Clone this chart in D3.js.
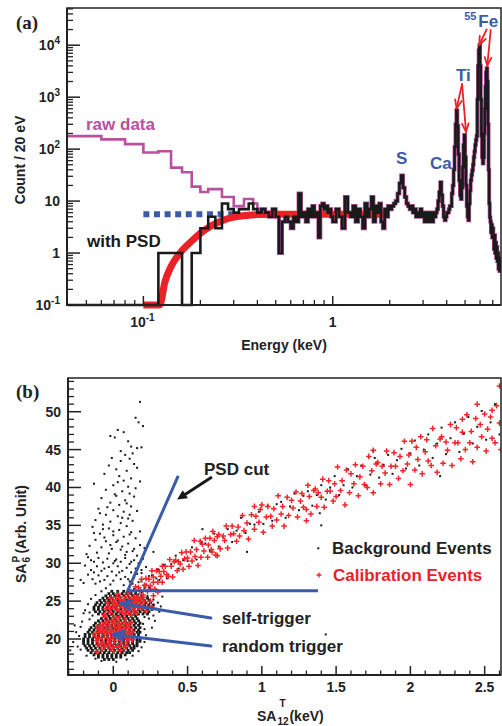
<!DOCTYPE html>
<html><head><meta charset="utf-8">
<script src="https://cdn.jsdelivr.net/npm/d3@7"></script>
<style>
body{margin:0;background:#fff}
text{font-family:"Liberation Sans",Arial,Helvetica,sans-serif;font-weight:bold}
</style>
</head><body>
<svg id="c" width="502" height="726"></svg>
<script>
// ================= DATA: panel (a) =================
// raw data histogram: [bin left edge (keV), counts / 20 eV]
const rawBins = [[0.04,178],[0.06,154],[0.08,125],[0.10,86],[0.12,91],[0.14,44],[0.16,36],[0.18,19],[0.20,15],[0.22,17],[0.24,17],[0.26,12],[0.28,12],[0.30,8],[0.32,8],[0.34,11],[0.36,11],[0.38,9],[0.40,7]];
const rawEnd = 0.42;
// with PSD histogram: [bin left edge (keV), counts]
const psdBins = [
[0.04,0],[0.06,0],[0.08,0],[0.10,0],[0.12,1],[0.14,1],[0.16,0],[0.18,1],[0.20,3],[0.22,5],[0.24,3],[0.26,9],[0.28,7],[0.30,6],[0.32,7],[0.34,7],[0.36,9],[0.38,7],[0.40,6],[0.42,7],[0.44,6],[0.46,5],[0.48,7],[0.50,5],[0.52,1],[0.54,4],[0.56,5],[0.58,4],[0.60,3],[0.62,5],[0.64,4],[0.66,14],[0.68,5],[0.70,6],[0.72,4],[0.74,7],[0.76,5],[0.78,8],[0.80,5],[0.82,6],[0.84,2],[0.86,8],[0.88,9],[0.90,7],[0.92,8],[0.94,6],[0.96,7],[0.98,5],
[1.00,4],[1.04,7],[1.08,5],[1.12,3],[1.16,12],[1.20,6],[1.24,5],[1.28,8],[1.32,4],[1.36,7],[1.40,5],[1.44,3],[1.48,9],[1.52,5],[1.56,7],[1.60,12],[1.64,4],[1.68,8],[1.72,6],[1.76,9],[1.80,4],[1.84,3],[1.88,7],[1.92,5],[1.96,8],
[2.00,7],[2.05,8],[2.10,9],[2.15,10],[2.20,14],[2.25,22],[2.30,31],[2.35,18],[2.40,12],[2.45,9],[2.50,8],[2.55,7],[2.60,8],[2.65,6],[2.70,7],[2.75,5],[2.80,6],[2.85,5],[2.90,7],[2.95,5],[3.00,6],[3.05,4],[3.10,6],[3.15,5],[3.20,4],[3.25,6],[3.30,5],[3.35,4],[3.40,6],[3.45,5],[3.50,6],[3.55,7],[3.60,10],[3.65,15],[3.70,23],[3.75,13],[3.80,8],[3.85,5],[3.90,4.3],[3.95,5],[4.00,6],[4.05,6],[4.10,7],[4.15,8],
[4.20,8],[4.25,14],[4.30,20],[4.35,40],[4.40,110],[4.45,300],[4.50,560],[4.55,280],[4.60,80],[4.65,25],[4.70,13],[4.75,11],[4.80,18],[4.85,45],[4.90,120],[4.95,186],[5.00,70],[5.05,20],[5.10,8],[5.15,5],[5.20,4.3],[5.25,9],[5.30,16],[5.35,25],[5.40,32],[5.45,39],[5.50,50],[5.55,70],[5.60,90],[5.65,120],[5.70,150],[5.75,180],[5.80,900],[5.85,4000],[5.90,8000],[5.95,10000],[6.00,4000],[6.05,900],[6.10,180],[6.15,70],[6.20,53],[6.25,70],[6.30,200],[6.35,600],[6.40,1600],[6.45,3000],[6.50,3600],[6.55,2000],[6.60,300],[6.65,40],[6.70,9],[6.75,4.9],[6.80,4],[6.85,2.5],[6.90,3.5],[6.95,2],[7.00,3],[7.05,2],[7.10,1.2],[7.15,2.2],[7.20,1],[7.25,1.6],[7.30,0.8],[7.35,1.3],[7.40,0.7],[7.45,1],[7.50,0.5],[7.55,0.8],[7.60,0.45],[7.65,0.6],[7.70,0.5]];
const psdEnd = 7.75;
// efficiency fit (red) and threshold level (blue dotted)
const fitE = [0.10,0.122,0.13,0.14,0.156,0.18,0.20,0.23,0.26,0.30,0.35,0.40,0.50,0.70,1.0,1.85];
const fitC = [0.1,0.1,0.28,0.55,1.0,1.7,2.4,3.4,4.2,4.9,5.3,5.5,5.6,5.6,5.6,5.6];
const levelE = [0.10,0.30];
const levelC = [5.6,5.6];
// peak labels [E, counts, text]
const peakLabels = [[2.31,51,"S"],[3.73,40.6,"Ca"],[4.9,2070,"Ti"]];
// red arrows [[E0,C0],[E1,C1]]
const peakArrows = [[[4.82,1786],[4.51,608]],[[4.82,1786],[5.06,215]],[[6.5,20200],[5.94,10090]],[[6.83,19600],[6.55,4030]]];
const yTicksA = [0.1,1,10,100,1000,10000];
const yTickLabA = ["-1","0","1","2","3","4"];
const xTicksA = [0.1,1];

// ================= DATA: panel (b) =================
const bgPlume = [[0.18,51.3],[0.15,49.2],[0.17,48.6],[0.2,48.1],[0.03,47.6],[0.07,47.3],[-0.02,46.8],[0.01,46.6],[0.12,45.4],[0.16,45.2],[0.19,45.3],[0.1,46.1],
[0.08,44.3],[0.11,43.8],[0.05,43.5],[0.14,43.1],[-0.03,42.9],[0.02,42.4],[0.09,42.2],[0.16,42.6],[-0.06,41.8],[0.04,41.5],[0.12,41.2],[0.07,40.9],[0.18,40.8],[-0.13,40.5],[0.0,40.3],[0.1,40.1],[0.05,44.8],[-0.01,43.9],[0.13,44.5],[0.03,40.7],
[-0.05,39.7],[0.06,39.5],[0.11,39.2],[0.02,38.9],[-0.08,38.6],[0.14,38.8],[0.08,38.3],[-0.02,38.0],[0.04,37.7],[0.12,37.5],[-0.1,37.2],[0.0,37.0],[0.07,36.8],[0.16,36.9],[-0.05,36.4],[0.03,36.2],[0.1,35.9],[-0.12,35.7],[-0.02,35.5],[0.05,35.3],[0.13,35.6],[0.18,34.2],[-0.07,35.1],[0.01,39.1],[0.09,37.9],[-0.04,37.4],[0.06,36.0],[0.15,39.9],[-0.09,36.6],[0.11,36.4],
[-0.14,34.8],[-0.03,34.6],[0.04,34.4],[0.09,34.9],[0.12,34.1],[-0.09,33.9],[0.0,33.7],[0.07,33.5],[0.15,33.3],[-0.12,33.1],[-0.05,32.9],[0.02,32.8],[0.1,32.6],[0.18,32.4],[-0.16,32.3],[-0.08,32.1],[-0.01,31.9],[0.05,31.8],[0.13,31.6],[-0.11,31.4],[-0.03,31.3],[0.08,31.1],[0.16,31.0],[-0.06,33.4],[0.03,33.0],[0.11,33.8],[-0.13,34.0],[-0.02,32.4],[0.06,32.2],[0.14,31.9],[-0.18,31.2],[0.21,32.0],[0.0,34.2],[-0.07,34.5],[0.09,31.5],
[-0.17,30.8],[-0.1,30.7],[-0.04,30.6],[0.02,30.5],[0.08,30.7],[0.14,30.4],[0.2,30.6],[-0.13,30.2],[-0.07,30.1],[0.0,30.0],[0.05,30.2],[0.11,29.9],[0.17,30.0],[-0.19,29.7],[-0.11,29.6],[-0.03,29.5],[0.03,29.6],[0.09,29.4],[0.15,29.3],[0.22,29.5],[-0.15,29.1],[-0.08,29.0],[-0.01,28.9],[0.06,29.0],[0.12,28.8],[0.19,28.7],[-0.17,28.5],[-0.1,28.4],[-0.04,28.3],[0.02,28.4],[0.08,28.2],[0.14,28.1],[0.24,28.3],[-0.14,27.9],[-0.06,27.8],[0.0,27.7],[0.05,27.9],[0.11,27.6],[0.17,27.5],[-0.2,27.4],[-0.12,27.3],[-0.02,27.2],[0.07,27.1],[0.13,27.3],[0.21,27.0],[0.3,29.2],[-0.22,27.8],[0.27,31.5],
[-0.15,30.4],[-0.06,29.3],[0.04,28.8],[0.16,28.6],[-0.09,27.6],[0.1,27.9],[0.19,29.1],[-0.13,28.8],[0.01,30.3],[0.12,30.2]];
// dense clusters as rows: [y, [x...]]
const bgRandomRows = [
[17.3,[-0.06,-0.03,0.0]],
[17.6,[-0.1,-0.07,-0.04,-0.01,0.02,0.05]],
[17.9,[-0.13,-0.1,-0.07,-0.04,-0.01,0.02,0.05,0.08]],
[18.2,[-0.15,-0.12,-0.09,-0.06,-0.03,0.0,0.03,0.06,0.09,0.11]],
[18.5,[-0.17,-0.14,-0.11,-0.08,-0.05,-0.02,0.01,0.04,0.07,0.1,0.13]],
[18.8,[-0.18,-0.15,-0.12,-0.09,-0.06,-0.03,0.0,0.03,0.06,0.09,0.12,0.14]],
[19.1,[-0.19,-0.16,-0.13,-0.1,-0.07,-0.04,-0.01,0.02,0.05,0.08,0.11,0.14,0.16]],
[19.4,[-0.2,-0.17,-0.14,-0.11,-0.08,-0.05,-0.02,0.01,0.04,0.07,0.1,0.13,0.16]],
[19.7,[-0.2,-0.17,-0.14,-0.11,-0.08,-0.05,-0.02,0.01,0.04,0.07,0.1,0.13,0.16,0.18]],
[20.0,[-0.2,-0.17,-0.14,-0.11,-0.08,-0.05,-0.02,0.01,0.04,0.07,0.1,0.13,0.16,0.18]],
[20.3,[-0.19,-0.16,-0.13,-0.1,-0.07,-0.04,-0.01,0.02,0.05,0.08,0.11,0.14,0.17]],
[20.6,[-0.19,-0.16,-0.13,-0.1,-0.07,-0.04,-0.01,0.02,0.05,0.08,0.11,0.14,0.17]],
[20.9,[-0.17,-0.14,-0.11,-0.08,-0.05,-0.02,0.01,0.04,0.07,0.1,0.13,0.16,0.18]],
[21.2,[-0.16,-0.13,-0.1,-0.07,-0.04,-0.01,0.02,0.05,0.08,0.11,0.14,0.17]],
[21.5,[-0.15,-0.12,-0.09,-0.06,-0.03,0.0,0.03,0.06,0.09,0.12,0.15,0.18]],
[21.8,[-0.13,-0.1,-0.07,-0.04,-0.01,0.02,0.05,0.08,0.11,0.14,0.17]],
[22.1,[-0.12,-0.09,-0.06,-0.03,0.0,0.03,0.06,0.09,0.12,0.15,0.18]],
[22.4,[-0.1,-0.07,-0.04,-0.01,0.02,0.05,0.08,0.11,0.14,0.17]],
[22.7,[-0.08,-0.05,-0.02,0.01,0.04,0.07,0.1,0.13,0.16]],
[23.0,[-0.06,-0.03,0.0,0.03,0.06,0.09,0.12,0.15]]];
const bgSelfRows = [
[23.3,[-0.1,-0.07,-0.04,-0.01,0.02,0.05,0.08,0.11,0.14,0.17,0.2,0.23]],
[23.6,[-0.12,-0.09,-0.06,-0.03,0.0,0.03,0.06,0.09,0.12,0.15,0.18,0.21,0.24]],
[23.9,[-0.13,-0.1,-0.07,-0.04,-0.01,0.02,0.05,0.08,0.11,0.14,0.17,0.2,0.23,0.26]],
[24.2,[-0.13,-0.1,-0.07,-0.04,-0.01,0.02,0.05,0.08,0.11,0.14,0.17,0.2,0.23,0.26]],
[24.5,[-0.12,-0.09,-0.06,-0.03,0.0,0.03,0.06,0.09,0.12,0.15,0.18,0.21,0.24,0.27]],
[24.8,[-0.11,-0.08,-0.05,-0.02,0.01,0.04,0.07,0.1,0.13,0.16,0.19,0.22,0.25]],
[25.1,[-0.09,-0.06,-0.03,0.0,0.03,0.06,0.09,0.12,0.15,0.18,0.21,0.24]],
[25.4,[-0.07,-0.04,-0.01,0.02,0.05,0.08,0.11,0.14,0.17,0.2,0.23]],
[25.7,[-0.05,-0.02,0.01,0.04,0.07,0.1,0.13,0.16,0.19]],
[26.0,[-0.03,0.0,0.03,0.06,0.09,0.12,0.15]],
[26.3,[-0.01,0.03,0.07,0.11]]];
const bgHalo = [[-0.24,19.0],[-0.23,20.4],[-0.22,21.6],[-0.25,20.9],[-0.22,18.6],[-0.18,17.8],[-0.12,17.4],[0.09,17.3],[0.13,17.8],[0.17,18.4],[0.19,18.9],[0.21,19.6],[0.22,20.5],[0.21,21.3],[0.2,22.0],[-0.21,22.3],[-0.16,22.6],[-0.27,19.6],[0.02,17.0],[-0.08,17.1],[-0.26,21.8],[0.24,20.0],[-0.14,23.1],[-0.2,23.4],[-0.19,23.8],
[-0.16,23.5],[-0.17,24.6],[-0.15,25.3],[-0.12,25.8],[-0.08,26.3],[-0.05,26.7],[0.15,26.4],[0.19,26.1],[0.23,25.7],[0.27,25.2],[0.3,24.8],[0.29,24.0],[0.31,23.6],[0.27,23.1],[0.24,22.7],[0.28,22.4],[0.33,25.6],[0.25,26.6],[0.21,22.9],[0.32,24.3],[0.26,21.5],[-0.29,18.5],[1.43,20.6]];
const bgBand = [[0.14,26.6],[0.17,25.9],[0.19,27.6],[0.21,26.7],[0.24,26.8],[0.26,28.4],[0.29,28.0],[0.31,27.8],[0.34,29.8],[0.36,28.0],[0.39,29.9],[0.42,31.0],[0.44,29.3],[0.47,30.4],[0.5,30.3],[0.53,32.1],[0.56,30.5],[0.59,32.7],[0.62,32.6],[0.65,31.6],[0.68,33.9],[0.71,32.2],[0.74,33.4],[0.77,34.5],[0.8,32.8],[0.83,34.3],[0.86,36.0],[0.89,34.0],[0.92,35.2],[0.95,35.1],[0.98,36.8],[1.01,35.2],[1.04,37.6],[1.07,35.6],[1.1,37.8],[1.13,38.1],[1.16,36.0],[1.19,37.5],[1.22,39.2],[1.25,37.0],[1.28,38.9],[1.31,39.5],[1.34,37.6],[1.37,39.0],[1.4,40.3],[1.43,38.4],[1.46,40.0],[1.49,41.5],[1.52,39.0],[1.55,40.3],[1.58,42.4],[1.61,40.0],[1.64,41.5],[1.67,42.9],[1.7,40.3],[1.73,41.7],[1.76,43.9],[1.79,41.3],[1.82,43.0],[1.85,44.3],[1.88,41.8],[1.91,43.6],[1.94,45.1],[1.97,42.5],[2.0,44.5],[2.03,46.2],[2.06,42.9],[2.09,45.0],[2.12,47.0],[2.15,43.9],[2.18,45.8],[2.21,47.9],[2.24,44.4],[2.27,46.5],[2.3,48.6],[2.33,44.7],[2.36,47.1],[2.39,49.3],[2.42,45.8],[2.45,48.0],[2.48,50.1],[2.51,46.3],[2.54,48.6],[2.57,51.0],[2.6,47.0],[0.9,31.5],[1.4,35.0],[0.6,34.5],[1.75,44.8],[2.2,41.5],[0.3,26.3],[1.39,36.6]];
const calRandom = [[-0.1,19.2],[-0.06,19.0],[-0.02,18.8],[0.03,19.1],[0.07,18.9],[-0.11,19.8],[-0.07,19.6],[-0.03,19.5],[0.01,19.7],[0.05,19.4],[0.09,19.6],[-0.12,20.4],[-0.08,20.2],[-0.04,20.1],[0.0,20.3],[0.04,20.0],[0.08,20.2],[0.11,20.5],[-0.1,20.9],[-0.06,20.8],[-0.02,20.7],[0.02,20.9],[0.06,20.6],[0.1,20.8],[-0.09,21.4],[-0.05,21.3],[-0.01,21.2],[0.03,21.5],[0.07,21.2],[0.11,21.4],[-0.07,21.9],[-0.03,21.8],[0.01,22.0],[0.05,21.7],[0.09,21.9],[-0.04,22.4],[0.0,22.5],[0.04,22.3],[0.08,22.6],[0.12,22.2],[-0.11,18.3],[-0.08,18.6],[0.0,18.4],[0.05,18.5],[-0.13,20.7],[0.13,21.0],[0.13,19.9],[-0.11,21.5],[0.02,22.8],[-0.06,22.9],
[-0.08,19.4],[-0.04,19.2],[0.0,19.0],[0.05,19.8],[0.09,19.1],[-0.1,20.0],[-0.06,20.5],[-0.02,20.0],[0.02,20.5],[0.06,20.3],[0.1,20.1],[-0.08,21.1],[-0.04,20.9],[0.0,21.0],[0.04,21.1],[0.08,21.0],[0.12,20.7],[-0.07,21.6],[-0.03,21.5],[0.01,21.6],[0.05,21.4],[0.09,21.6],[-0.05,22.1],[-0.01,22.2],[0.03,22.0],[0.07,22.1],[0.11,22.0],[-0.09,21.8],[-0.02,19.3],[0.03,18.9]];
const calSelf = [[-0.05,24.0],[-0.02,23.5],[0.01,24.2],[0.04,23.7],[0.07,24.3],[0.1,23.8],[0.13,24.1],[0.16,24.4],[0.19,24.0],[-0.04,24.8],[0.0,25.0],[0.03,24.6],[0.06,24.9],[0.09,24.5],[0.12,24.8],[0.15,25.1],[0.18,24.7],[0.21,24.9],[-0.02,25.4],[0.02,25.5],[0.05,25.2],[0.08,25.6],[0.11,25.3],[0.14,25.6],[0.17,25.3],[0.2,25.5],[0.0,23.1],[0.04,22.9],[0.08,23.3],[0.12,23.2],[0.16,23.4],[-0.06,23.2],[0.23,24.3],[0.25,25.0],[0.22,23.7],[0.03,25.9],[0.1,26.0],[0.27,25.7],[0.3,26.2],[0.26,24.2],
[-0.03,24.3],[0.0,24.5],[0.02,23.9],[0.05,24.4],[0.08,24.0],[0.11,24.2],[0.14,24.6],[0.17,24.2],[0.2,24.3],[0.01,24.8],[0.04,25.3],[0.07,25.0],[0.1,24.9],[0.13,25.3],[0.16,25.0],[0.19,25.2],[0.06,23.5],[0.1,23.5],[0.14,23.7],[-0.02,24.0]];
const calBand = [[0.15,26.9],[0.16,25.5],[0.17,26.8],[0.18,26.4],[0.19,27.9],[0.2,25.8],[0.21,27.1],[0.22,28.0],[0.22,27.1],[0.23,26.3],[0.24,27.9],[0.25,27.0],[0.26,29.0],[0.27,27.5],[0.27,28.2],[0.28,26.6],[0.29,29.0],[0.3,27.5],[0.31,28.9],[0.32,28.3],[0.33,29.6],[0.33,27.5],[0.34,28.9],[0.35,29.6],[0.36,28.5],[0.37,28.3],[0.38,30.5],[0.39,29.6],[0.4,28.2],[0.41,30.2],[0.42,30.4],[0.43,29.0],[0.44,30.2],[0.45,29.9],[0.46,31.4],[0.47,29.2],[0.48,30.6],[0.49,31.5],[0.5,30.7],
[0.51,29.6],[0.52,31.5],[0.53,30.3],[0.545,33.0],[0.55,30.9],[0.56,31.8],[0.57,29.7],[0.585,32.9],[0.59,30.8],[0.6,32.5],[0.61,31.6],[0.62,33.3],[0.635,30.8],[0.64,32.4],[0.65,33.3],[0.66,31.8],[0.665,31.5],[0.67,34.2],[0.68,33.0],[0.69,31.1],[0.7,33.5],[0.71,33.8],[0.72,31.9],[0.74,33.6],[0.75,33.0],[0.76,34.9],[0.77,32.0],[0.79,33.8],[0.8,34.9],[0.81,33.9],[0.83,32.9],[0.84,34.8],[0.85,33.6],[0.87,36.3],[0.88,34.3],[0.9,35.3],[0.91,33.2],[0.93,36.4],[0.95,34.5],[0.96,36.2],[0.98,35.4],[0.99,37.1],
[1.0,37.7],[1.01,34.1],[1.03,36.1],[1.04,37.5],[1.06,36.2],[1.07,34.9],[1.08,37.2],[1.1,35.7],[1.11,38.9],[1.13,36.5],[1.14,37.5],[1.15,34.9],[1.17,38.7],[1.18,36.3],[1.2,38.3],[1.21,37.3],[1.23,39.4],[1.24,36.1],[1.26,38.2],[1.27,39.2],[1.28,37.4],[1.3,37.1],[1.31,40.3],[1.32,38.8],[1.33,36.5],[1.35,39.6],[1.36,39.8],[1.37,37.5],[1.38,39.3],[1.4,38.7],[1.41,41.1],[1.42,37.4],[1.44,39.5],[1.45,40.9],[1.46,39.5],[1.48,38.2],[1.49,40.5],
[1.5,38.8],[1.51,42.7],[1.53,39.6],[1.54,40.9],[1.56,37.7],[1.57,42.3],[1.59,39.3],[1.6,41.8],[1.62,40.5],[1.63,43.0],[1.65,38.9],[1.66,41.4],[1.68,42.8],[1.69,40.4],[1.71,40.0],[1.72,44.1],[1.74,42.2],[1.75,39.3],[1.77,43.1],[1.78,43.3],[1.8,40.5],[1.81,42.8],[1.83,41.9],[1.84,44.8],[1.86,40.4],[1.87,42.8],[1.89,44.6],[1.9,42.8],[1.92,41.2],[1.93,44.1],[1.95,42.2],[1.96,46.1],[1.98,43.1],[1.99,44.3],
[2.0,40.4],[2.01,46.1],[2.03,42.3],[2.04,45.3],[2.05,43.7],[2.07,46.7],[2.08,41.8],[2.1,44.7],[2.11,46.3],[2.12,43.5],[2.14,42.9],[2.15,47.8],[2.17,45.5],[2.18,42.0],[2.2,46.4],[2.21,46.7],[2.22,43.2],[2.24,46.0],[2.25,44.9],[2.27,48.3],[2.28,42.9],[2.3,45.9],[2.31,47.9],[2.32,45.9],[2.34,43.8],[2.35,47.3],[2.37,45.0],[2.38,49.6],[2.4,45.9],[2.41,47.4],[2.42,43.4],[2.44,49.1],[2.45,45.3],[2.47,48.3],[2.48,46.7],[2.5,49.7],[2.51,44.8],[2.52,47.7],[2.54,49.3],[2.55,46.5],[2.57,45.9],[2.58,50.8],[2.6,48.5],[2.61,45.0],
[2.6,53.4],[2.45,51.0],[1.75,44.9],[0.95,37.5],[2.55,50.2],[2.35,49.0],[1.3,35.6],[0.7,31.0]];
// annotations (data coords)
const cutVertex = [0.097,26.37], cutTop = [0.437,41.54], cutRight = [1.378,26.37];
const psdArrow = [[0.664,41.37],[0.429,38.4]];
const trigArrows = [[[0.657,22.77],[0.052,24.68]],[[0.657,19.08],[0.0,20.6]]];
const yMajorB = [20,25,30,35,40,45,50];
const xMajorB = [0,0.5,1,1.5,2,2.5];
const xLabB = ["0","0.5","1","1.5","2","2.5"];

// ================= DRAW =================
const svg = d3.select("#c");
const BLUE = "#3b5ba9", RED = "#ea2127", MAG = "#b8519f";

function arrowOpen(g, p0, p1, color, w, len, ang){
  g.append("line").attr("x1",p0[0]).attr("y1",p0[1]).attr("x2",p1[0]).attr("y2",p1[1])
   .attr("stroke",color).attr("stroke-width",w).attr("stroke-linecap","round");
  const a = Math.atan2(p0[1]-p1[1], p0[0]-p1[0]);
  [ang,-ang].forEach(s=>{
    g.append("line").attr("x1",p1[0]).attr("y1",p1[1])
     .attr("x2",p1[0]+len*Math.cos(a+s)).attr("y2",p1[1]+len*Math.sin(a+s))
     .attr("stroke",color).attr("stroke-width",w).attr("stroke-linecap","round");
  });
}

// ---------- Panel (a)
const xA = d3.scaleLog().domain([0.0395,7.74]).range([67,501]);
const yA = d3.scaleLog().domain([0.1,52000]).range([305,8]);
const gA = svg.append("g");
svg.append("clipPath").attr("id","clipA").append("rect").attr("x",67).attr("y",8).attr("width",434).attr("height",302);
const pA = gA.append("g").attr("clip-path","url(#clipA)");
const step = d3.line().x(d=>xA(d[0])).y(d=>yA(Math.max(d[1],0.1))).curve(d3.curveStepAfter);
const withEnd = (bins,end)=>bins.concat([[end,bins[bins.length-1][1]]]);

pA.append("path").attr("d",step(withEnd(rawBins,rawEnd))).attr("fill","none").attr("stroke",MAG).attr("stroke-width",2.6);
const hiBins = psdBins.filter(d=>d[0]>=0.4);
pA.append("path").attr("d",step(withEnd(hiBins,psdEnd))).attr("fill","none").attr("stroke",MAG).attr("stroke-width",4);
pA.append("path").attr("d",d3.line().x(d=>xA(d[0])).y(d=>yA(d[1]))(levelE.map((e,i)=>[e,levelC[i]])))
  .attr("stroke",BLUE).attr("stroke-width",6).attr("stroke-dasharray","6,4.6").attr("fill","none");
pA.append("path").attr("d",d3.line().x(d=>xA(d[0])).y(d=>yA(d[1])).curve(d3.curveMonotoneX)(fitE.map((e,i)=>[e,fitC[i]])))
  .attr("stroke",RED).attr("stroke-width",7).attr("fill","none");
pA.append("path").attr("d",step(withEnd(psdBins,psdEnd))).attr("fill","none").attr("stroke","#1a1a1a").attr("stroke-width",2.6).attr("stroke-linejoin","miter");

// frame A
gA.append("rect").attr("x",67).attr("y",8).attr("width",434).attr("height",297).attr("fill","none").attr("stroke","#222").attr("stroke-width",1.5);
gA.append("line").attr("x1",67).attr("x2",67).attr("y1",8).attr("y2",306).attr("stroke","#222").attr("stroke-width",2);
gA.append("line").attr("x1",66).attr("x2",501).attr("y1",305).attr("y2",305).attr("stroke","#222").attr("stroke-width",2);
// y ticks A
const yMinorA=[]; [0.1,1,10,100,1000,10000].forEach(b=>{for(let k=2;k<=9;k++){const v=b*k; if(v<52000) yMinorA.push(v);}});
yMinorA.forEach(v=>gA.append("line").attr("x1",67).attr("x2",73).attr("y1",yA(v)).attr("y2",yA(v)).attr("stroke","#222").attr("stroke-width",1.3));
yTicksA.forEach(v=>gA.append("line").attr("x1",67).attr("x2",80).attr("y1",yA(v)).attr("y2",yA(v)).attr("stroke","#222").attr("stroke-width",1.5));
yTicksA.forEach((v,i)=>{
  const t = gA.append("text").attr("x",60).attr("y",yA(v)+5).attr("text-anchor","end").attr("font-size",14).attr("fill","#222");
  const e = yTickLabA[i];
  if(e==="0") t.text("1");
  else if(e==="1") t.text("10");
  else { t.text("10"); t.append("tspan").attr("dy",-6).attr("font-size",10).text(e); }
});
// x ticks A
const xMinorA=[0.05,0.06,0.07,0.08,0.09,0.2,0.3,0.4,0.5,0.6,0.7,0.8,0.9,2,3,4,5,6,7];
xMinorA.forEach(v=>gA.append("line").attr("x1",xA(v)).attr("x2",xA(v)).attr("y1",305).attr("y2",300).attr("stroke","#222").attr("stroke-width",1.3));
xTicksA.forEach(v=>gA.append("line").attr("x1",xA(v)).attr("x2",xA(v)).attr("y1",305).attr("y2",296).attr("stroke","#222").attr("stroke-width",1.5));
{ const t=gA.append("text").attr("x",xA(0.1)-1).attr("y",327).attr("text-anchor","middle").attr("font-size",14).attr("fill","#222");
  t.text("10"); t.append("tspan").attr("dy",-6).attr("font-size",10).text("-1");
  gA.append("text").attr("x",xA(1)).attr("y",327).attr("text-anchor","middle").attr("font-size",14).attr("fill","#222").text("1"); }
gA.append("text").attr("x",284).attr("y",350).attr("text-anchor","middle").attr("font-size",14).attr("fill","#222").text("Energy (keV)");
gA.append("text").attr("transform","translate(25,160) rotate(-90)").attr("text-anchor","middle").attr("font-size",14).attr("fill","#222").text("Count / 20 eV");
gA.append("text").attr("x",16).attr("y",29).attr("font-size",19).attr("fill","#222").style("font-family","'Liberation Serif','Times New Roman',serif").text("(a)");
gA.append("text").attr("x",86).attr("y",130).attr("font-size",17).attr("fill",MAG).text("raw data");
gA.append("text").attr("x",87).attr("y",247).attr("font-size",17).attr("fill","#1a1a1a").text("with PSD");
peakLabels.forEach(d=>gA.append("text").attr("x",xA(d[0])).attr("y",yA(d[1])).attr("text-anchor","middle").attr("font-size",17).attr("fill",BLUE).text(d[2]));
gA.append("text").attr("x",xA(4.95)).attr("y",yA(30600)).attr("font-size",11).attr("fill",BLUE).text("55");
gA.append("text").attr("x",xA(5.87)).attr("y",yA(22700)).attr("font-size",17).attr("fill",BLUE).text("Fe");
peakArrows.forEach(a=>arrowOpen(gA,[xA(a[0][0]),yA(a[0][1])],[xA(a[1][0]),yA(a[1][1])],RED,1.8,9,0.38));

// ---------- Panel (b)
const xB = d3.scaleLinear().domain([-0.305,2.61]).range([68,501]);
const yB = d3.scaleLinear().domain([15.25,54.45]).range([675,378]);
const gB = svg.append("g");
svg.append("clipPath").attr("id","clipB").append("rect").attr("x",68).attr("y",378).attr("width",433).attr("height",297);
const pB = gB.append("g").attr("clip-path","url(#clipB)");
const rowsToPts = rows => rows.flatMap(r=>r[1].map(x=>[x,r[0]]));
const bgSparse = bgPlume.concat(bgHalo, bgBand);
const bgDense = rowsToPts(bgRandomRows).concat(rowsToPts(bgSelfRows));
pB.selectAll("rect.bgd").data(bgDense).join("rect").attr("class","bgd")
  .attr("x",d=>xB(d[0])-1.4).attr("y",d=>yB(d[1])-1.4).attr("width",2.8).attr("height",2.8).attr("fill","#1a1a1a");
pB.selectAll("rect.bg").data(bgSparse).join("rect").attr("class","bg")
  .attr("x",d=>xB(d[0])-1).attr("y",d=>yB(d[1])-1).attr("width",2).attr("height",2).attr("fill","#1a1a1a");
const calAll = calRandom.concat(calSelf, calBand);
pB.selectAll("path.cal").data(calAll).join("path").attr("class","cal")
  .attr("d",d=>{const x=xB(d[0]),y=yB(d[1]);return `M${x-2.8},${y}H${x+2.8}M${x},${y-2.8}V${y+2.8}`;})
  .attr("stroke","#f2262a").attr("stroke-width",1.5);

// frame B
gB.append("rect").attr("x",68).attr("y",378).attr("width",433).attr("height",297).attr("fill","none").attr("stroke","#222").attr("stroke-width",1.5);
gB.append("line").attr("x1",68).attr("x2",68).attr("y1",378).attr("y2",676).attr("stroke","#222").attr("stroke-width",2);
gB.append("line").attr("x1",67).attr("x2",501).attr("y1",675).attr("y2",675).attr("stroke","#222").attr("stroke-width",2);
d3.range(16,55).filter(v=>v%5!==0).forEach(v=>gB.append("line").attr("x1",68).attr("x2",74).attr("y1",yB(v)).attr("y2",yB(v)).attr("stroke","#222").attr("stroke-width",1.3));
yMajorB.forEach(v=>{
  gB.append("line").attr("x1",68).attr("x2",81).attr("y1",yB(v)).attr("y2",yB(v)).attr("stroke","#222").attr("stroke-width",1.5);
  gB.append("text").attr("x",61).attr("y",yB(v)+5).attr("text-anchor","end").attr("font-size",14).attr("fill","#222").text(v);
});
d3.range(-3,27).filter(k=>k%5!==0).forEach(k=>{const v=k/10;gB.append("line").attr("x1",xB(v)).attr("x2",xB(v)).attr("y1",675).attr("y2",670.5).attr("stroke","#222").attr("stroke-width",1.3);});
xMajorB.forEach((v,i)=>{
  gB.append("line").attr("x1",xB(v)).attr("x2",xB(v)).attr("y1",675).attr("y2",666).attr("stroke","#222").attr("stroke-width",1.5);
  gB.append("text").attr("x",xB(v)).attr("y",692).attr("text-anchor","middle").attr("font-size",14).attr("fill","#222").text(xLabB[i]);
});
gB.append("text").attr("x",16).attr("y",398).attr("font-size",19).attr("fill","#222").style("font-family","'Liberation Serif','Times New Roman',serif").text("(b)");
// y title
{ const g=gB.append("g").attr("transform","translate(26,583) rotate(-90)");
  const t=g.append("text").attr("x",0).attr("y",0).attr("font-size",14).attr("fill","#222").text("SA");
  const w=t.node().getComputedTextLength();
  g.append("text").attr("x",w+1).attr("y",-6).attr("font-size",10).attr("fill","#222").text("P");
  g.append("text").attr("x",w+1).attr("y",4).attr("font-size",10).attr("fill","#222").text("6");
  g.append("text").attr("x",w+10).attr("y",0).attr("font-size",14).attr("fill","#222").text("(Arb. Unit)"); }
// x title
{ const t=gB.append("text").attr("x",257).attr("y",721).attr("font-size",14).attr("fill","#222").text("SA");
  const w=t.node().getComputedTextLength();
  gB.append("text").attr("x",257+w+3).attr("y",707).attr("font-size",10).attr("fill","#222").text("T");
  gB.append("text").attr("x",257+w+1).attr("y",725).attr("font-size",10).attr("fill","#222").text("12");
  gB.append("text").attr("x",257+w+13).attr("y",721).attr("font-size",14).attr("fill","#222").text("(keV)"); }
// PSD cut lines
const P = d=>[xB(d[0]),yB(d[1])];
gB.append("path").attr("d",d3.line()([P(cutTop),P(cutVertex),P(cutRight)])).attr("fill","none").attr("stroke",BLUE).attr("stroke-width",3);
trigArrows.forEach(a=>arrowOpen(gB,P(a[0]),P(a[1]),BLUE,3,11,0.42));
{ const p0=P(psdArrow[0]), p1=P(psdArrow[1]);
  const a=Math.atan2(p0[1]-p1[1],p0[0]-p1[0]); const L=11, h=0.45;
  gB.append("line").attr("x1",p0[0]).attr("y1",p0[1]).attr("x2",p1[0]+L*0.7*Math.cos(a)).attr("y2",p1[1]+L*0.7*Math.sin(a)).attr("stroke","#1a1a1a").attr("stroke-width",3);
  gB.append("path").attr("d",`M${p1[0]},${p1[1]}L${p1[0]+L*Math.cos(a+h)},${p1[1]+L*Math.sin(a+h)}L${p1[0]+L*Math.cos(a-h)},${p1[1]+L*Math.sin(a-h)}Z`).attr("fill","#1a1a1a"); }
gB.append("text").attr("x",204).attr("y",475).attr("font-size",17).attr("fill","#222").text("PSD cut");
gB.append("text").attr("x",222).attr("y",624).attr("font-size",17).attr("fill","#222").text("self-trigger");
gB.append("text").attr("x",222).attr("y",652).attr("font-size",17).attr("fill","#222").text("random trigger");
// legend
gB.append("rect").attr("x",317.3).attr("y",547.3).attr("width",2).attr("height",2).attr("fill","#1a1a1a");
gB.append("path").attr("d","M316.5,575H321.5M319,572.5V577.5").attr("stroke","#f2262a").attr("stroke-width",1.3);
gB.append("text").attr("x",332).attr("y",553.5).attr("font-size",17).attr("fill","#222").text("Background Events");
gB.append("text").attr("x",333).attr("y",580.5).attr("font-size",17).attr("fill",RED).text("Calibration Events");
</script>
</body></html>
